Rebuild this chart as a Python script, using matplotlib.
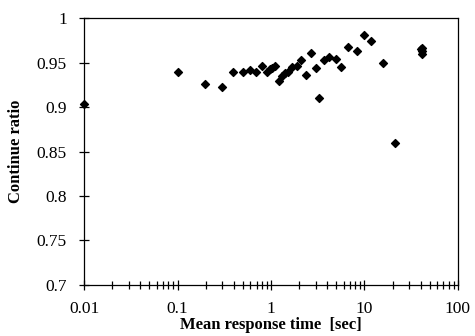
import matplotlib
matplotlib.use("Agg")
import matplotlib.pyplot as plt
from matplotlib.ticker import LogLocator, FixedLocator, NullFormatter

# Mean response time [sec] and continue ratio
resp_time = [0.01, 0.1, 0.198, 0.299, 0.395, 0.498, 0.60, 0.697, 0.80, 0.90,
             0.975, 1.03, 1.10, 1.21, 1.32, 1.40, 1.51, 1.69, 1.90, 2.09,
             2.37, 2.70, 3.0, 3.29, 3.69, 4.21, 4.92, 5.61, 6.72, 8.38,
             9.96, 11.7, 15.8, 21.2, 40.9, 40.9, 40.9, 40.5]
cont_ratio = [0.903, 0.939, 0.9255, 0.923, 0.940, 0.940, 0.9416, 0.939, 0.9457, 0.9397,
              0.9423, 0.944, 0.9464, 0.9295, 0.9348, 0.9386, 0.9397, 0.9446, 0.9464, 0.9528,
              0.9356, 0.9603, 0.944, 0.9104, 0.953, 0.9558, 0.954, 0.9453, 0.9678, 0.9633,
              0.9805, 0.9741, 0.950, 0.8595, 0.966, 0.963, 0.960, 0.965]

y_ticks = [0.7, 0.75, 0.8, 0.85, 0.9, 0.95, 1.0]
y_labels = ["0.7", "0.75", "0.8", "0.85", "0.9", "0.95", "1"]
x_ticks = [0.01, 0.1, 1, 10, 100]
x_labels = ["0.01", "0.1", "1", "10", "100"]

plt.rcParams['font.family'] = ['Liberation Serif', 'DejaVu Serif']

fig = plt.figure(figsize=(4.75, 3.36), dpi=100)
ax = fig.add_axes([0.177, 0.152, 0.787, 0.794])

ax.scatter(resp_time, cont_ratio, marker="D", s=16, color="black", zorder=3, clip_on=False)

ax.set_xscale("log")
ax.set_xlim(0.01, 100)
ax.set_ylim(0.7, 1.0)

ax.xaxis.set_major_locator(FixedLocator(x_ticks))
ax.set_xticklabels(x_labels)
ax.xaxis.set_minor_locator(LogLocator(base=10, subs=range(2, 10)))
ax.xaxis.set_minor_formatter(NullFormatter())
ax.set_yticks(y_ticks)
ax.set_yticklabels(y_labels)

ax.tick_params(axis="both", which="major", direction="inout", length=7, width=0.9,
               labelsize=12.5, colors="black")
ax.tick_params(axis="x", which="major", pad=8)
ax.tick_params(axis="y", which="major", pad=9)
ax.tick_params(axis="x", which="minor", direction="inout", length=6, width=0.9)
ax.tick_params(top=False, right=False)

for s in ax.spines.values():
    s.set_linewidth(0.9)

ax.set_xlabel("Mean response time  [sec]", fontsize=12, fontweight="bold", labelpad=0)
ax.set_ylabel("Continue ratio", fontsize=12, fontweight="bold", labelpad=9)

fig.savefig("out.png", dpi=100)
